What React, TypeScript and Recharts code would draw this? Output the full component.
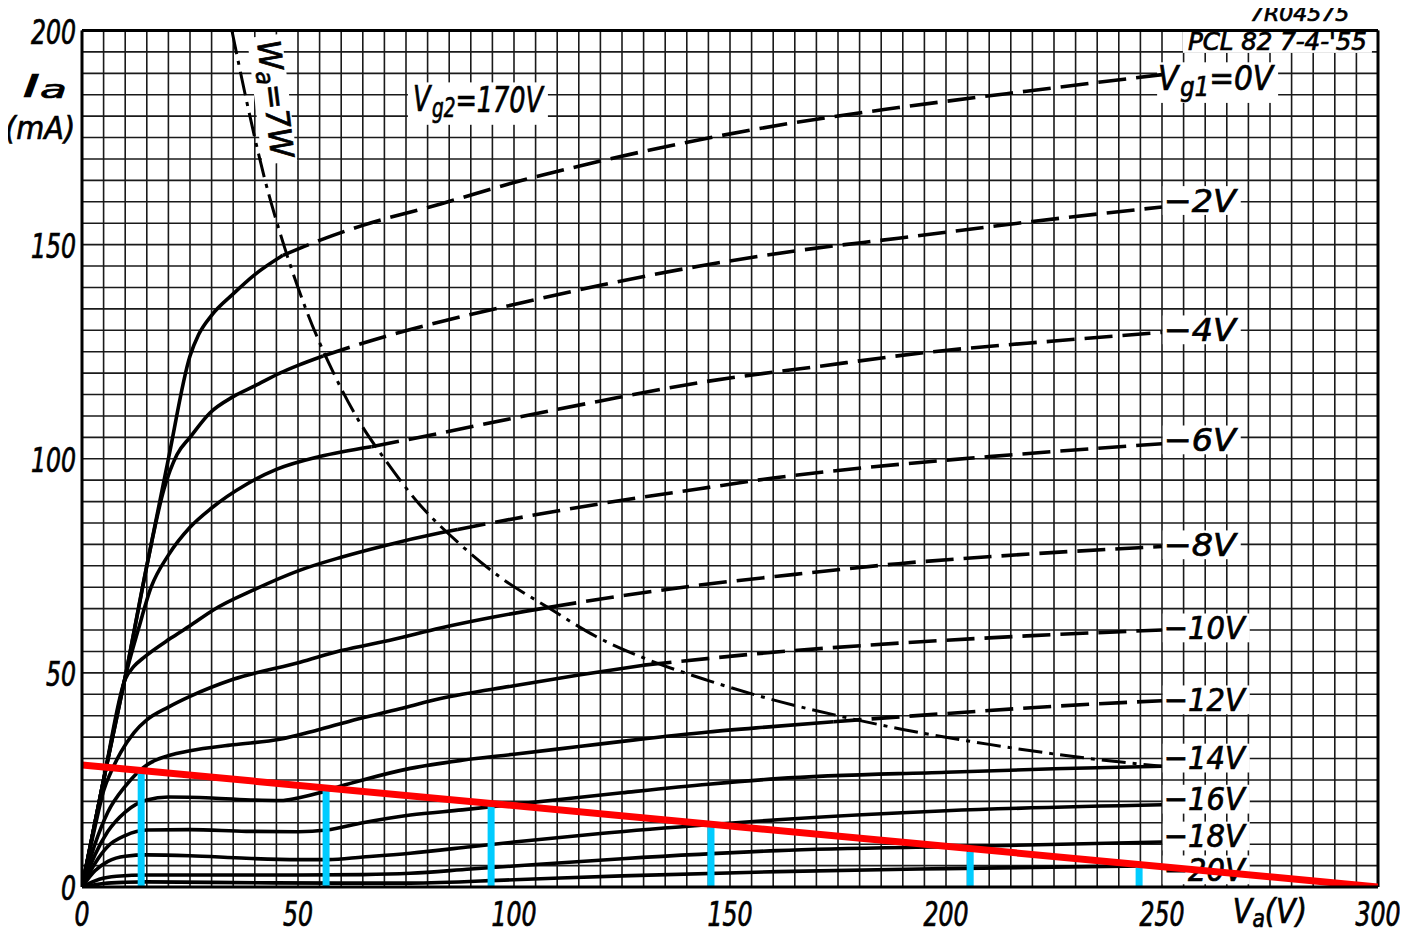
import React from 'react';
import { LineChart, Line, XAxis, YAxis, CartesianGrid, ReferenceLine, ReferenceDot } from 'recharts';

type Pt = [number, number];

// ---------- data: plate characteristics Ia (mA) vs Va (V), PCL82 pentode, Vg2 = 170 V ----------
// solid parts (left of the Wa = 7 W hyperbola) and dashed parts (right of it)
const vg0Solid: Pt[] = [[0, 0], [5, 25], [10, 49], [15, 75], [20, 100], [25, 124], [27, 129], [30, 133.5], [35, 138.5], [40, 143], [46.5, 147.5]];
const vg0Dash: Pt[] = [[46.5, 147.5], [55, 151], [65, 154.5], [83, 159.5], [100, 164.5], [120, 169.5], [143, 174.5], [165, 178.5], [189, 182], [220, 186], [250, 189.7]];

const vg2Solid: Pt[] = [[0, 0], [5, 25], [10, 49], [15, 75], [19, 93], [22, 101], [25, 105], [29.6, 110.7], [35, 114.5], [40, 117], [45.8, 120], [50, 121.8], [55.8, 124]];
const vg2Dash: Pt[] = [[55.8, 124], [70, 128.5], [83, 132], [100, 136], [120, 140.5], [143, 145], [165, 148.5], [189, 151.5], [220, 155.4], [250, 158.8]];

const vg4Solid: Pt[] = [[0, 0], [5, 25], [10, 49], [13, 60], [16, 70], [20, 77.5], [25, 84], [30, 88.5], [38, 94], [45, 97.5], [55, 100.5], [67, 102.8]];
const vg4Dash: Pt[] = [[67, 102.8], [83, 106], [100, 109.5], [120, 113.5], [143, 117.8], [170, 121.5], [197, 125], [225, 127.5], [250, 129.5]];

const vg6Solid: Pt[] = [[0, 0], [5, 25], [10, 48.5], [12, 51.5], [14.2, 53.5], [20.4, 58], [25, 61], [30.4, 64.7], [40, 69.5], [50.5, 74], [60, 77], [70, 79.7], [83, 82.7], [87, 83.5]];
const vg6Dash: Pt[] = [[87, 83.5], [100, 86], [120, 89.5], [143, 93], [160, 95.5], [182, 98], [210, 100.5], [250, 103.5]];

const vg8Solid: Pt[] = [[0, 0], [3, 14], [5, 22.5], [7, 27.5], [9, 31.5], [12, 36], [15, 39], [20, 42], [25, 44.5], [35, 48.5], [50.5, 52.5], [60, 55.2], [72, 57.8], [83, 60.5], [95, 63], [108, 65.3]];
const vg8Dash: Pt[] = [[108, 65.3], [125, 68], [143, 70.5], [165, 73], [189, 75.5], [220, 77.8], [250, 79.5]];

const vg10Solid: Pt[] = [[0, 0], [3, 10], [6, 17.5], [10, 23.5], [15, 28.5], [18, 30], [25, 31.8], [35, 33.2], [45.8, 34.5], [55, 36.8], [65, 39.5], [75, 42], [83, 44], [100, 47], [115, 49.5], [130, 51.8]];
const vg10Dash: Pt[] = [[130, 51.8], [160, 54.8], [190, 57], [220, 58.7], [250, 60]];

const vg12Solid: Pt[] = [[0, 0], [3, 7.5], [6, 13], [10, 17.5], [15, 20.3], [20, 21], [30, 20.8], [40, 20.3], [46, 20.2], [50, 20.8], [55, 22], [60, 23.6], [65, 25], [76, 27.7], [88, 29.6], [100, 31], [115, 32.8], [127.5, 34.3], [145, 36.2], [159, 37.4], [174, 38.6]];
const vg12Dash: Pt[] = [[174, 38.6], [200, 40.5], [225, 42.2], [250, 43.5]];

const vg14: Pt[] = [[0, 0], [3, 5.5], [6, 9.5], [10, 12], [15, 13.3], [25, 13.4], [38, 13], [50, 12.9], [56.6, 13.3], [65, 15], [76, 16.8], [88, 18], [100, 19.3], [125, 22], [145, 24], [161, 25.3], [200, 26.8], [225, 27.6], [250, 28.2]];
const vg16: Pt[] = [[0, 0], [3, 3.8], [6, 6], [10, 7.2], [15, 7.5], [25, 7.3], [38, 6.7], [50, 6.4], [57, 6.4], [65, 7], [76, 7.9], [90, 9.4], [100, 10.5], [120, 12.5], [145.6, 14.6], [161, 15.7], [200, 17.8], [250, 19.2]];
const vg18: Pt[] = [[0, 0], [4, 1.8], [8, 2.5], [15, 2.8], [30, 2.8], [50, 2.8], [65, 2.9], [76, 3.2], [90, 4.2], [100, 4.9], [125, 6.6], [161, 8.5], [205.6, 9.5], [250, 10.5]];
const vg20: Pt[] = [[0, 0], [5, 0.8], [10, 1.1], [15, 1.2], [40, 1.0], [60, 0.9], [76, 0.9], [100, 1.7], [125, 2.6], [161, 3.6], [200, 4.3], [250, 5.0]];

// Wa = 7 W anode dissipation limit, as drawn
const wa7W: Pt[] = [[34.7, 200], [38, 184], [42, 166.5], [47, 149], [52, 134.5], [58, 120.5], [64, 109], [70, 100], [78, 89.5], [87, 80.5], [97, 72.2], [108, 65.2], [119, 58.5], [130, 53.5], [145, 48.2], [160, 43.7], [175, 40], [190, 36.8], [210, 33.3], [230, 30.4], [250, 28.2]];

// red load line and cyan markers at its intersections
const loadLine: Pt[] = [[0, 28.5], [300, 0]];
const markerV = [13.7, 56.5, 94.7, 145.6, 205.6, 244.7];
const markerI = [27, 22.7, 18.9, 14.3, 8.2, 4.9];

// labels
const curveLabels = ['\u22122V', '\u22124V', '\u22126V', '\u22128V', '\u221210V', '\u221212V', '\u221214V', '\u221216V', '\u221218V', '\u221220V'];
const curveLabelLevels = [160.3, 130.1, 104.4, 79.9, 60.5, 43.7, 30.1, 20.5, 11.9, 4.0];
const xTickLabels = [0, 50, 100, 150, 200, 250, 300];
const yTickLabels = [0, 50, 100, 150, 200];

// ---------- helpers ----------
const solidSeries = [vg0Solid, vg2Solid, vg4Solid, vg6Solid, vg8Solid, vg10Solid, vg12Solid, vg14, vg16, vg18, vg20];
const dashSeries = [vg0Dash, vg2Dash, vg4Dash, vg6Dash, vg8Dash, vg10Dash, vg12Dash];
const toData = (pts: Pt[]) => pts.map(([v, i]) => ({ v, i }));
const gridX = Array.from({ length: 61 }, (_, k) => k * 5);
const gridY = Array.from({ length: 41 }, (_, k) => k * 5);

const FONT = "'DejaVu Sans Condensed', 'DejaVu Sans', sans-serif";

type MarkProps = {
  cx: number;
  cy: number;
  size: number;
  len: number;
  anchor?: 'start' | 'middle' | 'end';
  rotate?: number;
  padL?: number;
  extraBottom?: number;
  children: React.ReactNode;
};

const Mark = ({ cx, cy, size, len, anchor = 'start', rotate = 0, padL = 5, extraBottom = 0, children }: MarkProps) => {
  const w = len + padL + 5;
  const h = size * 0.9;
  const x0 = anchor === 'start' ? cx - padL : anchor === 'middle' ? cx - w / 2 : cx - len - padL;
  return (
    <g transform={rotate ? `rotate(${rotate} ${cx} ${cy})` : undefined}>
      <rect x={x0} y={cy - h / 2} width={w} height={h + extraBottom} fill="#fff" />
      <text x={cx} y={cy} fontSize={size} fontFamily={FONT} fontStyle="italic" textAnchor={anchor}
        dominantBaseline="central" textLength={len} lengthAdjust="spacingAndGlyphs"
        fill="#000" stroke="#000" strokeWidth={0.7}>
        {children}
      </text>
    </g>
  );
};

const XTick = (props: any) => {
  const { x, y, payload } = props;
  const v = payload?.value;
  if (!xTickLabels.includes(v)) return <g />;
  const s = String(v);
  return (
    <text x={x} y={y + 27} textAnchor="middle" dominantBaseline="central" fontSize={34} fontFamily={FONT}
      fontStyle="italic" textLength={s.length * 15} lengthAdjust="spacingAndGlyphs" stroke="#000" strokeWidth={0.7}>
      {s}
    </text>
  );
};

const YTick = (props: any) => {
  const { x, y, payload } = props;
  const v = payload?.value;
  if (!yTickLabels.includes(v)) return <g />;
  const s = String(v);
  return (
    <text x={x - 6} y={y + 1} textAnchor="end" dominantBaseline="central" fontSize={34} fontFamily={FONT}
      fontStyle="italic" textLength={s.length * 15} lengthAdjust="spacingAndGlyphs" stroke="#000" strokeWidth={0.7}>
      {s}
    </text>
  );
};

const TextAt = (x: number, y: number, key: string, render: (cx: number, cy: number) => React.ReactNode) => (
  <ReferenceDot key={key} x={x} y={y} r={0} ifOverflow="visible" zIndex={300}
    shape={(p: any) => <g>{render(p.cx, p.cy)}</g>} />
);

export default function App() {
  return (
    <div style={{ margin: -8, width: 1408, height: 937 }}>
      <LineChart width={1408} height={937} margin={{ top: 30.5, right: 30, bottom: 10, left: 0 }}>
        <CartesianGrid stroke="#1a1a1a" strokeWidth={1.6} />
        <XAxis type="number" dataKey="v" domain={[0, 300]} ticks={gridX} interval={0} height={40}
          tickLine={false} tickSize={0} tickMargin={0} tick={<XTick />} axisLine={{ stroke: '#000', strokeWidth: 3 }}
          allowDataOverflow />
        <YAxis type="number" domain={[0, 200]} ticks={gridY} interval={0} width={82}
          tickLine={false} tickSize={0} tickMargin={0} tick={<YTick />} axisLine={{ stroke: '#000', strokeWidth: 3 }}
          allowDataOverflow />
        <ReferenceLine y={200} stroke="#000" strokeWidth={3} zIndex={410} />
        <ReferenceLine x={300} stroke="#000" strokeWidth={3} zIndex={410} />

        {TextAt(76.6, 184.1, 't-vg2', (cx, cy) => (
          <Mark cx={cx} cy={cy} size={36} len={130} extraBottom={10}>
            V<tspan dx={2} dy={9} fontSize={26}>g2</tspan><tspan dy={-9}>=170V</tspan>
          </Mark>
        ))}
        {TextAt(249.1, 189, 't-vg1', (cx, cy) => (
          <Mark cx={cx} cy={cy} size={34} len={115} padL={1} extraBottom={10}>
            V<tspan dx={2} dy={9} fontSize={26}>g1</tspan><tspan dy={-9}>=0V</tspan>
          </Mark>
        ))}
        {curveLabels.map((lab, k) =>
          TextAt(250.4, curveLabelLevels[k], 'cl' + k, (cx, cy) => (
            <Mark cx={cx} cy={cy} size={32} len={lab.length > 3 ? 81 : 72} padL={1}>{lab}</Mark>
          ))
        )}
        {TextAt(270.4, 203.9, 't-code', (cx, cy) => (
          <Mark cx={cx} cy={cy} size={22} len={99}>7R04575</Mark>
        ))}
        {TextAt(256, 197.3, 't-type', (cx, cy) => (
          <Mark cx={cx} cy={cy} size={24} len={179}>PCL 82  7-4-'55</Mark>
        ))}
        {TextAt(44.7, 184, 't-wa', (cx, cy) => (
          <Mark cx={cx} cy={cy} size={32} len={118} anchor="middle" rotate={83} extraBottom={6}>
            W<tspan dy={8} fontSize={24}>a</tspan><tspan dy={-8}>=7W</tspan>
          </Mark>
        ))}
        {TextAt(-13.7, 187, 't-ia', (cx, cy) => (
          <Mark cx={cx} cy={cy} size={32} len={44}>
            I<tspan dy={4} fontSize={24}>a</tspan>
          </Mark>
        ))}
        {TextAt(-17.8, 177.2, 't-ma', (cx, cy) => (
          <Mark cx={cx} cy={cy} size={32} len={70}>(mA)</Mark>
        ))}
        {TextAt(266.4, -5.6, 't-va', (cx, cy) => (
          <Mark cx={cx} cy={cy} size={34} len={74}>
            V<tspan dy={8} fontSize={24}>a</tspan><tspan dy={-8}>(V)</tspan>
          </Mark>
        ))}

        {solidSeries.map((s, k) => (
          <Line key={'s' + k} data={toData(s)} dataKey="i" type="monotone" stroke="#000" strokeWidth={3.6}
            dot={false} activeDot={false} isAnimationActive={false} />
        ))}
        {dashSeries.map((s, k) => (
          <Line key={'d' + k} data={toData(s)} dataKey="i" type="monotone" stroke="#000" strokeWidth={3.6}
            strokeDasharray="28 10" dot={false} activeDot={false} isAnimationActive={false} />
        ))}
        <Line data={toData(wa7W)} dataKey="i" type="monotone" stroke="#000" strokeWidth={3}
          strokeDasharray="24 7 4 7" dot={false} activeDot={false} isAnimationActive={false} />

        {markerV.map((v, k) => (
          <ReferenceLine key={'m' + k} segment={[{ x: v, y: 0 }, { x: v, y: markerI[k] }]} stroke="#00CCFF"
            strokeWidth={7} ifOverflow="visible" zIndex={450} />
        ))}
        <Line data={toData(loadLine)} dataKey="i" type="linear" stroke="#FF0000" strokeWidth={7}
          dot={false} activeDot={false} isAnimationActive={false} zIndex={460} />
      </LineChart>
    </div>
  );
}
